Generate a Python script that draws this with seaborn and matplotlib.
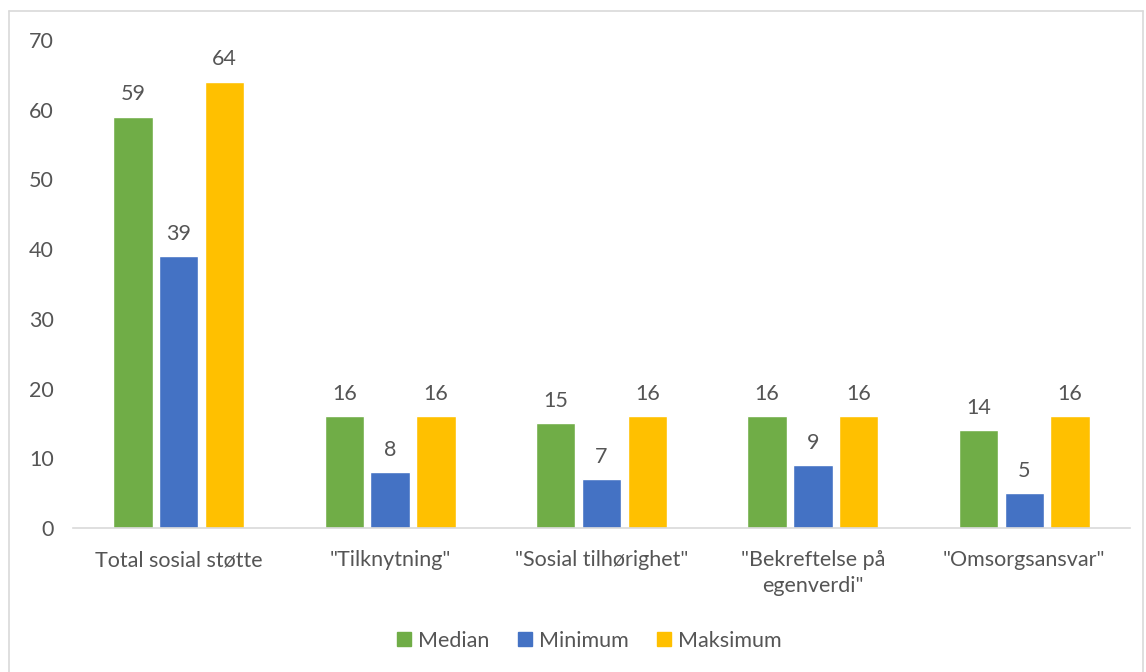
import matplotlib
matplotlib.use("Agg")
import matplotlib.pyplot as plt
import seaborn as sns
import pandas as pd
from matplotlib.lines import Line2D

categories = ["Total sosial støtte", "\"Tilknytning\"", "\"Sosial tilhørighet\"",
              "\"Bekreftelse på\negenverdi\"", "\"Omsorgsansvar\""]
series = ["Median", "Minimum", "Maksimum"]
median = [59, 16, 15, 16, 14]
minimum = [39, 8, 7, 9, 5]
maksimum = [64, 16, 16, 16, 16]
colors = ["#70AD47", "#4472C4", "#FFC000"]
yticks = [0, 10, 20, 30, 40, 50, 60, 70]

rows = []
for s, vals in zip(series, [median, minimum, maksimum]):
    for c, v in zip(categories, vals):
        rows.append({"cat": c, "series": s, "value": v})
df = pd.DataFrame(rows)

sns.set_theme(style="white")
plt.rcParams['font.family'] = ['Lato', 'DejaVu Sans']
text_color = "#555555"
fs = 15.5

fig = plt.figure(figsize=(11.46, 6.72), dpi=100)
ax = fig.add_axes([73/1146, 1-528/672, (1130-73)/1146, (528-40)/672])

sns.barplot(data=df, x="cat", y="value", hue="series", order=categories,
            hue_order=series, palette=colors, width=0.65, gap=0.14,
            saturation=1, ax=ax, legend=False)

for cont in ax.containers:
    ax.bar_label(cont, padding=9, fontsize=fs, color=text_color)

ax.set_xlim(-0.5, 4.5)
ax.set_ylim(0, 70)
ax.set_yticks(yticks)
ax.set_xlabel("")
ax.set_ylabel("")
for sp in ["top", "right", "left"]:
    ax.spines[sp].set_visible(False)
ax.spines["bottom"].set_color("#D9D9D9")
ax.spines["bottom"].set_linewidth(1.2)
ax.tick_params(axis="both", length=0, labelsize=fs, colors=text_color)
ax.tick_params(axis="y", pad=14)
ax.tick_params(axis="x", pad=16)
for lbl in ax.get_xticklabels():
    lbl.set_linespacing(1.35)

handles = [Line2D([0], [0], marker="s", linestyle="", markersize=10,
                  markerfacecolor=c, markeredgecolor=c) for c in colors]
fig.legend(handles, series, loc="center", bbox_to_anchor=(588/1146, 1-641/672),
           ncol=3, frameon=False, fontsize=fs, labelcolor=text_color,
           handletextpad=0.2, columnspacing=1.2, handlelength=0.9)

# chart border
border_color = "#D9D9D9"
fig.add_artist(Line2D([9/1146, 9/1146], [0, 1-11/672], color=border_color, lw=1.2, transform=fig.transFigure))
fig.add_artist(Line2D([9/1146, 1143/1146], [1-11/672, 1-11/672], color=border_color, lw=1.2, transform=fig.transFigure))
fig.add_artist(Line2D([1143/1146, 1143/1146], [0, 1-11/672], color=border_color, lw=1.2, transform=fig.transFigure))

fig.savefig("out.png", dpi=100)
